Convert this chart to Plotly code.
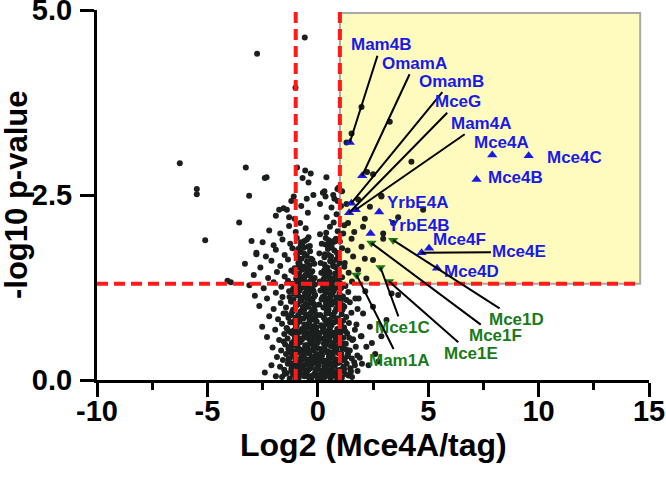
import plotly.graph_objects as go

# ---------------- data ----------------
# dense cloud of non-significant proteins, row by row
rowA_x = [-1.62,-1.41,-1.27,-1.12,-0.98,-0.86,-0.74,-0.61,-0.49,-0.37,-0.24,-0.13,-0.02,0.09,0.21,0.33,0.46,0.58,0.71,0.83,0.96,1.09,1.24,1.39,1.55]
rowA_y = [0.04,0.09,0.02,0.07,0.11,0.03,0.08,0.05,0.10,0.02,0.06,0.09,0.03,0.07,0.11,0.04,0.08,0.02,0.06,0.10,0.05,0.03,0.08,0.06,0.04]
rowB_x = [-1.71,-1.52,-1.36,-1.19,-1.05,-0.92,-0.79,-0.67,-0.55,-0.43,-0.31,-0.19,-0.07,0.04,0.16,0.27,0.39,0.52,0.64,0.77,0.90,1.02,1.16,1.31,1.47,1.68]
rowB_y = [0.18,0.14,0.22,0.16,0.20,0.13,0.24,0.17,0.21,0.14,0.19,0.23,0.15,0.20,0.13,0.24,0.17,0.21,0.15,0.19,0.23,0.14,0.18,0.22,0.16,0.20]
rowC_x = [-1.85,-1.58,-1.44,-1.29,-1.14,-1.01,-0.88,-0.76,-0.63,-0.51,-0.40,-0.28,-0.16,-0.05,0.07,0.19,0.31,0.43,0.56,0.68,0.81,0.94,1.07,1.21,1.37,1.54,1.79]
rowC_y = [0.31,0.27,0.35,0.29,0.33,0.26,0.37,0.30,0.34,0.28,0.36,0.31,0.27,0.35,0.29,0.33,0.26,0.37,0.30,0.34,0.28,0.36,0.31,0.27,0.35,0.29,0.33]
rowD_x = [-2.05,-1.66,-1.48,-1.33,-1.18,-1.04,-0.93,-0.81,-0.69,-0.57,-0.46,-0.34,-0.22,-0.11,0.01,0.22,0.35,0.47,0.59,0.72,0.85,0.98,1.12,1.27,1.45,1.72]
rowD_y = [0.44,0.40,0.48,0.42,0.50,0.39,0.46,0.51,0.41,0.47,0.43,0.49,0.40,0.45,0.51,0.42,0.48,0.39,0.46,0.50,0.41,0.47,0.43,0.49,0.40,0.45]
rowE_x = [-2.30,-1.75,-1.52,-1.37,-1.21,-1.07,-0.95,-0.83,-0.71,-0.60,-0.48,-0.36,-0.25,-0.13,-0.03,0.24,0.36,0.49,0.61,0.74,0.87,1.01,1.15,1.33,1.56,1.95]
rowE_y = [0.58,0.54,0.62,0.56,0.64,0.53,0.60,0.65,0.55,0.61,0.57,0.63,0.54,0.59,0.65,0.56,0.62,0.53,0.60,0.64,0.55,0.61,0.57,0.63,0.54,0.59]
rowF_x = [-2.52,-1.93,-1.62,-1.41,-1.25,-1.09,-0.96,-0.84,-0.72,-0.61,-0.50,-0.38,-0.27,-0.15,-0.05,0.26,0.38,0.50,0.62,0.75,0.88,1.03,1.19,1.41,1.68]
rowF_y = [0.72,0.68,0.76,0.70,0.78,0.67,0.74,0.79,0.69,0.75,0.71,0.77,0.68,0.73,0.79,0.70,0.76,0.67,0.74,0.78,0.69,0.75,0.71,0.77,0.68]
rowG_x = [-2.20,-1.80,-1.55,-1.33,-1.16,-1.02,-0.89,-0.77,-0.65,-0.54,-0.42,-0.31,-0.19,-0.08,0.27,0.39,0.52,0.64,0.77,0.91,1.08,1.29,1.52]
rowG_y = [0.86,0.82,0.90,0.84,0.92,0.81,0.88,0.93,0.83,0.89,0.85,0.91,0.82,0.87,0.84,0.90,0.81,0.88,0.92,0.83,0.89,0.85,0.91]
rowH_x = [-2.65,-2.00,-1.68,-1.44,-1.22,-1.05,-0.92,-0.79,-0.67,-0.55,-0.44,-0.32,-0.21,-0.10,0.25,0.37,0.49,0.62,0.74,0.87,1.01,1.20,1.45,1.80]
rowH_y = [1.00,0.96,1.04,0.98,1.06,0.95,1.02,1.07,0.97,1.03,0.99,1.05,0.96,1.01,0.98,1.04,0.95,1.02,1.06,0.97,1.03,0.99,1.05,0.96]
rowI_x = [-2.85,-2.30,-1.90,-1.60,-1.30,-1.10,-0.95,-0.82,-0.70,-0.58,-0.46,-0.35,-0.23,-0.12,0.22,0.34,0.46,0.59,0.71,0.84,0.98,1.14,1.38,1.70]
rowI_y = [1.14,1.10,1.18,1.12,1.20,1.09,1.16,1.21,1.11,1.17,1.13,1.19,1.10,1.15,1.12,1.18,1.09,1.16,1.20,1.11,1.17,1.13,1.19,1.10]
rowJ_x = [-3.10,-2.45,-2.00,-1.65,-1.35,-1.12,-0.96,-0.83,-0.71,-0.59,-0.47,-0.36,-0.24,-0.13,0.24,0.36,0.48,0.60,0.73,0.86,1.00,1.25,1.55]
rowJ_y = [1.28,1.24,1.32,1.26,1.34,1.23,1.30,1.35,1.25,1.31,1.27,1.33,1.24,1.29,1.26,1.32,1.23,1.30,1.34,1.25,1.31,1.27,1.33]
rowK_x = [-2.90,-2.25,-1.85,-1.50,-1.20,-0.98,-0.85,-0.72,-0.60,-0.48,-0.36,-0.25,-0.14,0.28,0.40,0.52,0.65,0.78,0.92,1.10,1.40]
rowK_y = [1.42,1.38,1.46,1.40,1.48,1.37,1.44,1.49,1.39,1.45,1.41,1.47,1.38,1.43,1.40,1.46,1.37,1.44,1.48,1.39,1.45]
rowL_x = [-3.30,-2.60,-2.10,-1.70,-1.35,-1.05,-0.88,-0.74,-0.61,-0.49,-0.37,-0.24,0.30,0.43,0.56,0.69,0.83,0.98,1.20]
rowL_y = [1.57,1.52,1.61,1.54,1.63,1.51,1.58,1.64,1.53,1.60,1.55,1.62,1.56,1.52,1.61,1.54,1.63,1.58,1.53]
rowM_x = [-2.78,-2.35,-1.90,-1.50,-1.15,-0.92,-0.77,-0.63,-0.50,-0.35,0.32,0.46,0.60,0.75,0.90,1.10]
rowM_y = [1.72,1.67,1.76,1.69,1.78,1.66,1.73,1.79,1.68,1.74,1.70,1.77,1.67,1.75,1.71,1.78]
rowN_x = [-2.50,-2.00,-1.60,-1.25,-0.95,-0.78,-0.60,-0.42,0.35,0.50,0.66,0.82,1.00]
rowN_y = [1.86,1.82,1.90,1.84,1.92,1.81,1.88,1.93,1.83,1.89,1.85,1.91,1.87]
rowO_x = [-2.20,-1.70,-1.30,-1.00,-0.80,-0.55,0.38,0.55,0.72,0.90,1.20]
rowO_y = [2.02,1.98,2.08,2.00,2.12,2.05,1.99,2.07,2.13,2.01,2.09]
rowP_x = [-1.90,-1.40,-1.05,-0.75,-0.45,0.40,0.62,0.85,1.30]
rowP_y = [2.22,2.30,2.18,2.35,2.26,2.20,2.33,2.24,2.38]
# extra fill of the dense core
fill_x = [-1.20,-1.00,-0.80,-0.55,-0.30,-0.08,0.15,0.38,0.62,0.88,1.15,1.48,
          -1.22,-0.97,-0.70,-0.45,-0.20,0.00,0.25,0.50,0.75,1.00,1.30,
          -1.30,-1.00,-0.78,-0.54,-0.30,-0.06,0.30,0.55,0.80,1.08,
          -1.12,-0.85,-0.60,-0.37,-0.14,0.32,0.58,0.83,1.15,
          -1.02,-0.76,-0.52,-0.29,0.29,0.54,0.79,1.05,
          -0.90,-0.66,-0.42,-0.20,0.35,0.58,0.85]
fill_y = [0.13,0.01,0.15,0.12,0.01,0.14,0.02,0.13,0.11,0.01,0.12,0.14,
          0.41,0.25,0.39,0.24,0.42,0.22,0.40,0.25,0.42,0.24,0.41,
          0.66,0.70,0.52,0.68,0.53,0.71,0.52,0.69,0.53,0.67,
          0.95,0.79,0.96,0.80,0.94,0.98,0.79,0.96,0.80,
          1.24,1.07,1.23,1.08,1.23,1.07,1.24,1.08,
          1.52,1.37,1.50,1.36,1.51,1.36,1.52]
fill2_x = [-1.50,-1.33,-1.17,-1.03,-0.90,-0.78,-0.66,-0.53,-0.41,-0.29,-0.17,-0.04,0.10,0.23,0.36,0.50,0.63,0.76,0.89,1.04,1.19,1.33,1.50,1.65,
           -2.40,-2.10,-1.90,1.80,2.00]
fill2_y = [0.08,0.28,0.12,0.30,0.06,0.22,0.32,0.10,0.26,0.04,0.30,0.16,0.27,0.07,0.21,0.31,0.09,0.25,0.03,0.29,0.15,0.32,0.11,0.24,
           0.10,0.20,0.05,0.12,0.22]
fill3_x = [-1.55,-1.40,-1.26,-1.11,-0.99,-0.86,-0.74,-0.62,-0.50,-0.38,-0.26,-0.14,-0.01,0.20,0.31,0.44,0.56,0.69,0.82,0.95,1.10,1.25,1.42]
fill3_y = [0.52,0.70,0.45,0.62,0.74,0.38,0.56,0.68,0.47,0.73,0.40,0.64,0.55,0.72,0.44,0.60,0.75,0.37,0.58,0.69,0.48,0.66,0.57]
fill4_x = [-1.45,-1.28,-1.13,-0.99,-0.87,-0.75,-0.63,-0.51,-0.39,-0.27,-0.16,-0.04,0.21,0.33,0.45,0.57,0.70,0.83,0.96,1.12,1.30]
fill4_y = [0.90,1.12,0.78,1.00,1.14,0.83,0.97,1.10,0.77,0.93,1.13,0.88,1.09,0.81,0.99,1.12,0.86,1.04,0.79,0.95,1.08]
fill5_x = [-1.15,-1.02,-0.90,-0.79,-0.67,-0.55,-0.43,-0.31,-0.19,0.26,0.38,0.51,0.64,0.77,0.91,1.05,-0.97,-0.84,-0.70,-0.57,-0.44,-0.30,0.30,0.44,0.58,0.72,0.87]
fill5_y = [1.30,1.18,1.40,1.25,1.50,1.32,1.22,1.45,1.20,1.36,1.19,1.44,1.28,1.53,1.35,1.24,1.70,1.62,1.85,1.68,1.80,1.64,1.66,1.82,1.60,1.88,1.72]
fill6_x = [-1.25,-1.08,-0.94,-0.82,-0.69,-0.58,-0.45,-0.33,-0.21,-0.09,0.05,0.18,0.30,0.42,0.55,0.67,0.80,0.93,1.06,1.20,
           -1.18,-1.03,-0.88,-0.73,-0.60,-0.47,-0.35,-0.23,-0.11,0.02,0.14,0.28,0.41,0.53,0.66,0.79,0.91,1.05,1.18]
fill6_y = [0.37,0.47,0.18,0.55,0.28,0.43,0.58,0.16,0.48,0.33,0.56,0.38,0.18,0.52,0.35,0.06,0.43,0.57,0.36,0.49,
           0.22,0.57,0.43,0.16,0.36,0.05,0.53,0.30,0.61,0.43,0.33,0.49,0.08,0.56,0.22,0.45,0.13,0.50,0.27]
fill7_x = [-1.21,-1.07,-0.93,-0.80,-0.68,-0.56,-0.44,-0.33,-0.20,-0.09,0.23,0.35,0.47,0.60,0.72,0.85,0.99,1.13,
           -1.16,-1.00,-0.86,-0.72,-0.59,-0.47,-0.35,-0.24,-0.12,0.27,0.40,0.53,0.66,0.80,0.94,1.08]
fill7_y = [0.88,1.17,0.64,1.27,0.99,0.70,1.15,0.61,1.03,0.80,0.66,1.11,0.91,0.63,1.22,0.83,0.62,1.01,
           1.06,0.84,1.29,0.92,0.66,1.19,0.86,1.05,0.69,1.25,0.95,0.73,1.16,0.61,1.12,0.72]
fill8_x = [-1.08,-0.94,-0.81,-0.69,-0.56,-0.42,-0.28,-0.16,0.29,0.42,0.55,0.68,0.81,0.95,-0.89,-0.76,-0.62,-0.49,-0.36,0.36,0.49,0.63,0.77,0.92]
fill8_y = [1.46,1.33,1.56,1.39,1.42,1.53,1.35,1.57,1.48,1.30,1.38,1.59,1.42,1.31,1.77,1.86,1.71,1.90,1.81,1.92,1.69,1.79,1.87,1.66]
gap_x = [0.08,0.15,0.11,0.06,0.17,0.12,0.09,0.16,0.13,0.07,0.18,0.10]
gap_y = [0.63,0.74,0.88,1.02,1.09,1.21,1.33,1.45,1.58,1.71,1.84,1.97]
# scattered points
out_x = [-0.59,-2.75,-1.01,-3.26,-2.32,-3.11,-0.94,-0.57,-0.32,-0.69,-0.42,0.39,0.23,0.35,-1.09,0.89,1.53,1.30,1.98,3.26,4.24,2.23,2.50,2.88,4.77,-6.25,-5.48,-5.48,-5.10,-3.94,-2.40,-3.56,-3.00,-4.09,-2.78]
out_y = [4.63,4.41,3.95,2.87,2.74,2.49,2.87,2.83,2.79,2.73,2.67,2.74,2.53,2.48,2.48,2.58,3.33,3.21,3.69,3.49,2.95,2.81,2.78,2.48,2.30,2.93,2.58,2.51,1.89,1.32,2.73,2.13,1.88,1.34,1.70]
right_hi_x = [2.88,3.64,3.41,2.96,2.96,2.05,1.98,1.60,2.13,1.53,1.15,1.22,1.83,2.50,2.20,1.37,2.13,2.36,1.83,0.75,0.95,1.05,1.10,1.35,1.65]
right_hi_y = [2.49,2.20,2.12,1.98,1.91,2.07,1.80,1.67,1.64,1.91,1.98,1.58,1.49,1.62,1.37,2.12,2.18,2.34,2.44,2.45,2.60,2.35,2.55,1.75,2.00]
right_lo_x = [3.34,3.64,2.50,3.11,2.36,2.88,2.20,1.98,2.60,2.30,1.90,2.05,1.75,2.45,2.75,1.85,2.15,1.60]
right_lo_y = [1.17,1.15,0.99,0.81,0.72,0.59,0.45,0.59,0.35,0.20,0.30,0.90,0.75,0.50,0.25,1.10,1.20,0.55]
top_x = [-1.75,-1.55,-1.30,-0.50,0.70,0.90,0.30,-1.20,-0.20,0.10]
top_y = [2.30,2.32,2.20,2.45,2.50,2.42,2.55,2.42,2.50,2.38]

# Mce4 complex hits (blue)
blue_names = ["Mam4B","OmamA","OmamB","MceG","Mam4A","Mce4A","Mce4C","Mce4B","YrbE4A","YrbE4B","Mce4F","Mce4E","Mce4D"]
blue_x = [1.45, 2.01, 1.52, 1.42, 1.72, 7.90, 9.55, 7.19, 2.78, 2.39, 5.04, 4.70, 5.40]
blue_y = [3.21, 2.76, 2.39, 2.26, 2.30, 3.04, 3.03, 2.71, 2.27, 1.98, 1.78, 1.72, 1.51]
blue_lab_x = [2.86, 4.39, 6.05, 6.35, 7.37, 8.33, 11.64, 8.97, 4.51, 4.57, 6.43, 9.13, 6.94]
blue_lab_y = [4.53, 4.28, 4.04, 3.76, 3.47, 3.21, 3.01, 2.73, 2.40, 2.09, 1.90, 1.73, 1.46]
blue_line = [True, True, True, True, True, False, False, False, False, False, False, True, False]

# Mce1 complex hits (green)
green_names = ["Mce1F","Mce1D","Mce1C","Mce1E","Mam1A"]
green_x = [2.43, 3.41, 2.84, 3.23, 1.75]
green_y = [1.85, 1.89, 1.52, 1.33, 1.42]
green_lab_x = [8.05, 9.01, 3.83, 6.93, 3.68]
green_lab_y = [0.60, 0.82, 0.71, 0.36, 0.27]

x_ticks = [-10, -5, 0, 5, 10, 15]
x_minor = [-7.5, -2.5, 2.5, 7.5, 12.5]
y_ticks = [0, 2.5, 5]
y_ticktext = ["0.0", "2.5", "5.0"]

# ---------------- figure ----------------
cloud_x = (rowA_x + rowB_x + rowC_x + rowD_x + rowE_x + rowF_x + rowG_x + rowH_x + rowI_x + rowJ_x
           + rowK_x + rowL_x + rowM_x + rowN_x + rowO_x + rowP_x + fill_x + fill2_x + fill3_x + fill4_x + fill5_x
           + fill6_x + fill7_x + fill8_x + gap_x + out_x + right_hi_x + right_lo_x + top_x)
cloud_y = (rowA_y + rowB_y + rowC_y + rowD_y + rowE_y + rowF_y + rowG_y + rowH_y + rowI_y + rowJ_y
           + rowK_y + rowL_y + rowM_y + rowN_y + rowO_y + rowP_y + fill_y + fill2_y + fill3_y + fill4_y + fill5_y
           + fill6_y + fill7_y + fill8_y + gap_y + out_y + right_hi_y + right_lo_y + top_y)

BLUE = "#1a1ae6"
GREEN = "#1a7a1a"
FONT = "Liberation Sans, Arial, sans-serif"

W, H = 666, 478
ML, MR, MT, MB = 97, 17, 10, 98
PW, PH = W - ML - MR, H - MT - MB

fig = go.Figure()
fig.add_trace(go.Scatter(x=cloud_x, y=cloud_y, mode="markers",
                         marker=dict(color="#1b1f1e", size=6, line=dict(width=0)),
                         hoverinfo="skip", showlegend=False))
fig.add_trace(go.Scatter(x=blue_x, y=blue_y, mode="markers",
                         marker=dict(color=BLUE, size=9, symbol="triangle-up", line=dict(width=0)),
                         text=blue_names, showlegend=False))
fig.add_trace(go.Scatter(x=green_x, y=green_y, mode="markers",
                         marker=dict(color=GREEN, size=9, symbol="triangle-down", line=dict(width=0)),
                         text=green_names, showlegend=False))

# shaded significance region
fig.add_shape(type="rect", x0=1, x1=14.6, y0=1.3, y1=4.96, xref="x", yref="y",
              fillcolor="#fffabd", line=dict(color="#a8a8a8", width=2), layer="below")
# threshold lines
dash = "11px,6px"
for xv in (-1, 1):
    fig.add_shape(type="line", x0=xv, x1=xv, y0=0, y1=5, xref="x", yref="y",
                  line=dict(color="#ff1a1a", width=4, dash=dash), layer="above")
fig.add_shape(type="line", x0=-10, x1=14.6, y0=1.3, y1=1.3, xref="x", yref="y",
              line=dict(color="#ff1a1a", width=4, dash=dash), layer="above")

annotations = []
lab_font_b = dict(family=FONT, size=17, color=BLUE, weight="bold")
lab_font_g = dict(family=FONT, size=17, color=GREEN, weight="bold")
for n, px, py, lx, ly, ln in zip(blue_names, blue_x, blue_y, blue_lab_x, blue_lab_y, blue_line):
    if ln:
        annotations.append(dict(x=px, y=py, ax=lx, ay=ly, xref="x", yref="y", axref="x", ayref="y",
                                text=n, showarrow=True, arrowhead=0, arrowwidth=2, arrowcolor="black",
                                standoff=0, font=lab_font_b))
    else:
        annotations.append(dict(x=lx, y=ly, xref="x", yref="y", text=n, showarrow=False, font=lab_font_b))
for n, px, py, lx, ly in zip(green_names, green_x, green_y, green_lab_x, green_lab_y):
    annotations.append(dict(x=px, y=py, ax=lx, ay=ly, xref="x", yref="y", axref="x", ayref="y",
                            text=n, showarrow=True, arrowhead=0, arrowwidth=2, arrowcolor="black",
                            standoff=0, font=lab_font_g))

# axis titles
annotations.append(dict(text="Log2 (Mce4A/tag)", xref="paper", yref="paper",
                        x=0.5, y=(380 - 445) / PH, xanchor="center", yanchor="middle",
                        showarrow=False, font=dict(family=FONT, size=32, color="black", weight="bold")))
annotations.append(dict(text="-log10 p-value", xref="paper", yref="paper",
                        x=(16 - ML) / PW, y=0.5, xanchor="center", yanchor="middle",
                        textangle=-90, showarrow=False, font=dict(family=FONT, size=31, color="black", weight="bold")))

axis_font = dict(family=FONT, size=29, color="black", weight="bold")
fig.update_layout(
    width=W, height=H,
    margin=dict(l=ML, r=MR, t=MT, b=MB, autoexpand=False),
    paper_bgcolor="white", plot_bgcolor="white",
    annotations=annotations,
    xaxis=dict(range=[-10, 15], tickvals=x_ticks, ticktext=[str(v) for v in x_ticks],
               showgrid=False, zeroline=False, showline=True, linecolor="black", linewidth=3,
               ticks="outside", ticklen=14, tickwidth=3, tickcolor="black", tickfont=axis_font,
               ticklabeloverflow="allow", automargin=False, ticklabelstandoff=-11,
               minor=dict(tickvals=x_minor, ticks="outside", ticklen=7, tickwidth=3, tickcolor="black")),
    yaxis=dict(range=[0, 5], tickvals=y_ticks, ticktext=y_ticktext,
               showgrid=False, zeroline=False, showline=True, linecolor="black", linewidth=3,
               ticks="outside", ticklen=14, tickwidth=3, tickcolor="black", tickfont=axis_font,
               ticklabeloverflow="allow", automargin=False, ticklabelstandoff=2),
)

fig.write_html("out.html", config={"displayModeBar": False},
               post_script="document.body.style.margin='0px';")
